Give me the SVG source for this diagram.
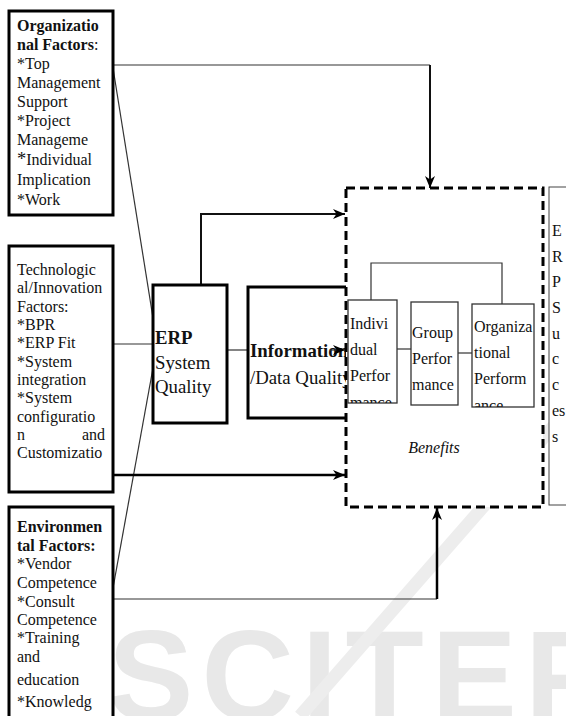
<svg xmlns="http://www.w3.org/2000/svg" width="566" height="716" viewBox="0 0 566 716">
<style>
  .t { font-family: "Liberation Serif", "Times New Roman", serif; font-size: 16px; fill: #111; }
  .b { font-weight: bold; }
  .big { font-size: 18.8px; }
  .box { fill: #fff; stroke: #000; stroke-width: 3; }
  .sbox { fill: #fff; stroke: #333; stroke-width: 1.3; }
  .thin { fill: none; stroke: #333; stroke-width: 1.2; }
  .mid { fill: none; stroke: #111; stroke-width: 2; }
  .thick { fill: none; stroke: #000; stroke-width: 2.5; }
  .wm { font-family: "Liberation Sans", Arial, sans-serif; font-weight: bold; font-size: 128px; fill: #e8e8e8; letter-spacing: 8px; }
</style>
<defs>
  <marker id="arr" viewBox="0 0 12 10" refX="12" refY="5" markerWidth="12" markerHeight="10" markerUnits="userSpaceOnUse" orient="auto">
    <path d="M0,0 L12,5 L0,10 L3.5,5 z" fill="#000"/>
  </marker>
  <clipPath id="cOrg"><rect x="10" y="12" width="102" height="201"/></clipPath>
  <clipPath id="cEnv"><rect x="10" y="508" width="102" height="210"/></clipPath>
  <clipPath id="cInd"><rect x="348" y="300" width="49" height="103"/></clipPath>
  <clipPath id="cOrgP"><rect x="472" y="304" width="62" height="103"/></clipPath>
</defs>

<!-- watermark -->
<g id="watermark">
  <text class="wm" x="108" y="720">SCITEPRESS</text>
  <line x1="300" y1="716" x2="580" y2="396" stroke="#ededed" stroke-width="13"/>
</g>

<!-- connectors -->
<g id="connectors">
  <line class="thin" x1="113" y1="68" x2="153" y2="318"/>
  <line class="thin" x1="113" y1="588" x2="153" y2="368"/>
  <polyline class="thin" points="113,65 430,65"/>
  <line class="mid" x1="430" y1="65" x2="430" y2="188" marker-end="url(#arr)"/>
  <line class="thin" x1="113" y1="344" x2="153" y2="344"/>
  <line class="thick" x1="113" y1="475" x2="345" y2="475" marker-end="url(#arr)"/>
  <polyline class="thin" points="113,599 437,599"/>
  <line class="thick" x1="437" y1="599" x2="437" y2="508" marker-end="url(#arr)"/>
  <polyline class="mid" points="201,285 201,214 345,214" marker-end="url(#arr)"/>
  <line class="thin" x1="227" y1="350" x2="248" y2="350"/>
</g>

<!-- Organizational Factors -->
<g id="org-factors">
  <rect class="box" x="9" y="11" width="104" height="204"/>
  <g clip-path="url(#cOrg)">
    <text class="t b" x="17" y="31">Organizatio</text>
    <text class="t b" x="17" y="50">nal Factors<tspan font-weight="normal">:</tspan></text>
    <text class="t" x="17" y="69">*Top</text>
    <text class="t" x="17" y="88">Management</text>
    <text class="t" x="17" y="107">Support</text>
    <text class="t" x="17" y="126">*Project</text>
    <text class="t" x="17" y="145" font-size="18.5">Manageme</text>
    <text class="t" x="17" y="165"><tspan font-size="18.5">*</tspan>Individual</text>
    <text class="t" x="17" y="185">Implication</text>
    <text class="t" x="17" y="205">*Work</text>
  </g>
</g>

<!-- Technological/Innovation Factors -->
<g id="tech-factors">
  <rect class="box" x="9" y="246" width="104" height="246"/>
  <text class="t" x="17" y="275">Technologic</text>
  <text class="t" x="17" y="293">al/Innovation</text>
  <text class="t" x="17" y="312">Factors:</text>
  <text class="t" x="17" y="330">*BPR</text>
  <text class="t" x="17" y="348">*ERP Fit</text>
  <text class="t" x="17" y="367">*System</text>
  <text class="t" x="17" y="385">integration</text>
  <text class="t" x="17" y="403">*System</text>
  <text class="t" x="17" y="422">configuratio</text>
  <text class="t" x="17" y="440">n</text>
  <text class="t" x="105" y="440" text-anchor="end">and</text>
  <text class="t" x="17" y="458">Customizatio</text>
</g>

<!-- Environmental Factors -->
<g id="env-factors">
  <rect class="box" x="9" y="507" width="104" height="220"/>
  <g clip-path="url(#cEnv)">
    <text class="t b" x="17" y="532">Environmen</text>
    <text class="t b" x="17" y="551">tal Factors:</text>
    <text class="t" x="17" y="569">*Vendor</text>
    <text class="t" x="17" y="588">Competence</text>
    <text class="t" x="17" y="607">*Consult</text>
    <text class="t" x="17" y="625">Competence</text>
    <text class="t" x="17" y="643">*Training</text>
    <text class="t" x="17" y="662">and</text>
    <text class="t" x="17" y="685" font-size="17.5">education</text>
    <text class="t" x="17" y="707" font-size="17.5">*Knowledg</text>
  </g>
</g>

<!-- ERP System Quality -->
<g id="erp-quality">
  <rect class="box" x="153" y="285" width="74" height="138"/>
  <text class="t big b" x="155" y="344">ERP</text>
  <text class="t big" x="155" y="369">System</text>
  <text class="t big" x="155" y="393">Quality</text>
</g>

<!-- Information/Data Quality -->
<g id="info-quality">
  <rect class="box" x="248" y="287" width="120" height="131"/>
  <text class="t big b" x="250" y="357">Information</text>
  <text class="t big" x="250" y="384">/Data Quality</text>
</g>

<!-- Benefits -->
<g id="benefits">
  <rect x="346" y="188" width="197" height="319" fill="#fff" stroke="#000" stroke-width="3" stroke-dasharray="9 5"/>
  <line class="thin" x1="330" y1="350" x2="345" y2="350" marker-end="url(#arr)"/>
  <polyline class="thin" points="371,300 371,263 502,263 502,304"/>
  <line class="thin" x1="397" y1="349" x2="411" y2="349"/>
  <line class="thin" x1="458" y1="353" x2="472" y2="353"/>
  <g id="individual">
    <rect class="sbox" x="348" y="300" width="49" height="103"/>
    <g clip-path="url(#cInd)">
      <text class="t" x="350" y="329">Indivi</text>
      <text class="t" x="350" y="355">dual</text>
      <text class="t" x="350" y="381">Perfor</text>
      <text class="t" x="350" y="408">mance</text>
    </g>
  </g>
  <g id="group">
    <rect class="sbox" x="411" y="302" width="47" height="103"/>
    <text class="t" x="412" y="338">Group</text>
    <text class="t" x="412" y="364">Perfor</text>
    <text class="t" x="412" y="390">mance</text>
  </g>
  <g id="organizational">
    <rect class="sbox" x="472" y="304" width="62" height="103"/>
    <g clip-path="url(#cOrgP)">
      <text class="t" x="474" y="332">Organiza</text>
      <text class="t" x="474" y="358">tional</text>
      <text class="t" x="474" y="384">Perform</text>
      <text class="t" x="474" y="411">ance</text>
    </g>
  </g>
  <text class="t" x="434" y="453" text-anchor="middle" font-style="italic">Benefits</text>
</g>

<!-- ERP Success -->
<g id="erp-success">
  <rect x="549" y="187" width="30" height="318" fill="#fff" stroke="#444" stroke-width="1"/>
  <text class="t" x="552" y="236" font-size="17.5">E</text>
  <text class="t" x="552" y="262" font-size="17.5">R</text>
  <text class="t" x="552" y="287" font-size="17.5">P</text>
  <text class="t" x="552" y="313" font-size="17.5">S</text>
  <text class="t" x="552" y="339" font-size="17.5">u</text>
  <text class="t" x="552" y="364" font-size="17.5">c</text>
  <text class="t" x="552" y="390" font-size="17.5">c</text>
  <text class="t" x="552" y="416" font-size="17.5">es</text>
  <text class="t" x="552" y="442" font-size="17.5">s</text>
</g>
</svg>
